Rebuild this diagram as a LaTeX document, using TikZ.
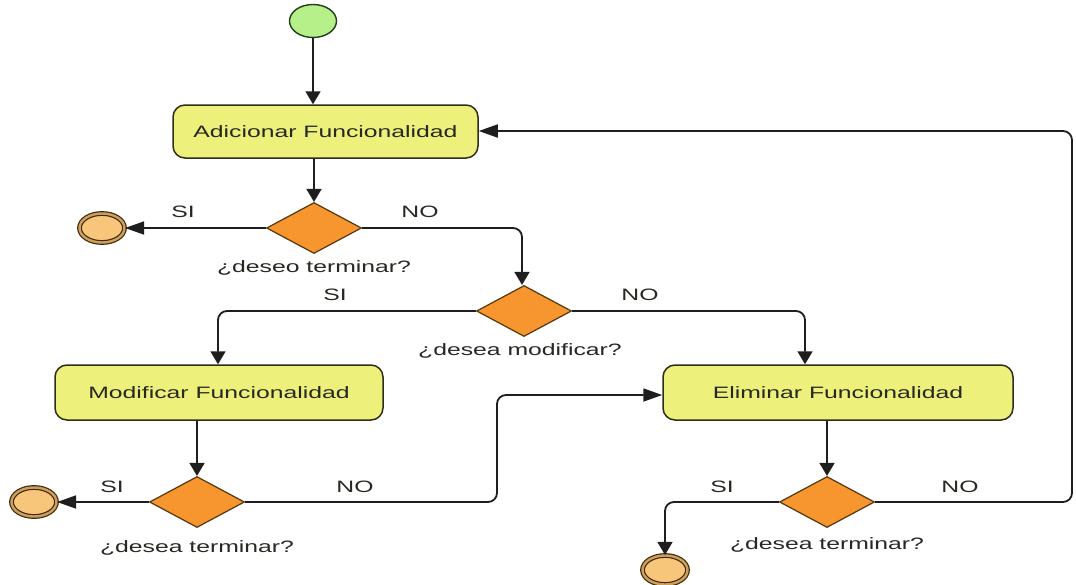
\documentclass[tikz,border=0pt]{standalone}
\usepackage{fontspec}
\setmainfont{Liberation Sans}[FakeStretch=1.5]
\usetikzlibrary{shapes.geometric,arrows.meta}

\definecolor{actfill}{RGB}{238,240,124}
\definecolor{actline}{RGB}{45,45,25}
\definecolor{decfill}{RGB}{247,150,46}
\definecolor{decline}{RGB}{85,55,15}
\definecolor{startfill}{RGB}{182,240,136}
\definecolor{startline}{RGB}{35,60,25}
\definecolor{endfill}{RGB}{248,198,122}
\definecolor{endring}{RGB}{205,160,90}
\definecolor{endline}{RGB}{65,40,12}
\definecolor{txt}{RGB}{40,40,35}
\definecolor{wire}{RGB}{30,30,30}

\begin{document}
\begin{tikzpicture}[x=1pt,y=-1pt,
  every node/.style={font=\fontsize{16.5}{19}\selectfont, text=txt},
  activity/.style={rectangle, rounded corners=12pt, draw=actline, line width=1.5pt,
    fill=actfill, inner sep=0pt},
  decision/.style={diamond, draw=decline, line width=1.2pt, fill=decfill,
    minimum width=95pt, minimum height=51pt, inner sep=0pt},
  startnode/.style={ellipse, draw=startline, line width=1.4pt, fill=startfill,
    minimum width=47pt, minimum height=33pt, inner sep=0pt},
  endnode/.style={ellipse, draw=endline, line width=1.2pt, double=endring,
    double distance=2.4pt, fill=endfill, minimum width=45pt, minimum height=29pt, inner sep=0pt},
  lbl/.style={inner sep=1pt},
  flow/.style={draw=wire, line width=1.8pt, rounded corners=9pt},
  vflow/.style={flow, -{Triangle[length=13pt,width=15pt]}},
  hflow/.style={flow, -{Triangle[length=19pt,width=13pt]}}
]
\useasboundingbox (0,0) rectangle (1076,584);
\fill[white] (0,0) rectangle (1076,584);

% states and decisions
\node[startnode] (start) at (313,21) {};
\node[activity, minimum width=305pt, minimum height=53pt] (add) at (325.5,131.5) {Adicionar Funcionalidad};
\node[decision] (d1) at (314,228) {};
\node[lbl] (q1) at (314,268) {¿deseo terminar?};
\node[endnode] (e1) at (102,228) {};

\node[decision] (d2) at (524,311) {};
\node[lbl] (q2) at (520,351) {¿desea modificar?};

\node[activity, minimum width=328pt, minimum height=55pt] (mod) at (219,392.5) {Modificar Funcionalidad};
\node[activity, minimum width=350pt, minimum height=55pt] (del) at (838,392.5) {Eliminar Funcionalidad};

\node[decision] (d3) at (197,502) {};
\node[lbl] (q3) at (197,548) {¿desea terminar?};
\node[endnode] (e2) at (34,502) {};

\node[decision] (d4) at (827,502) {};
\node[lbl] (q4) at (827,545) {¿desea terminar?};
\node[endnode] (e3) at (665,570) {};

% corner points of the routed connectors
\coordinate (c1) at (522,228);
\coordinate (c2l) at (218,311);
\coordinate (c2r) at (805,311);
\coordinate (c3a) at (497,502);
\coordinate (c3b) at (497,395);
\coordinate (c4l) at (665,502);
\coordinate (c4a) at (1072,502);
\coordinate (c4b) at (1072,131);

% connectors
\draw[vflow] (start.south) -- (start.south |- add.north);
\draw[vflow] (add.south -| d1.north) -- (d1.north);
\draw[hflow] (d1.west) -- (e1.east);
\draw[vflow] (d1.east) -- (c1) -- (c1 |- d2.north);
\draw[vflow] (d2.west) -- (c2l) -- (c2l |- mod.north);
\draw[vflow] (d2.east) -- (c2r) -- (c2r |- del.north);
\draw[vflow] (mod.south -| d3.north) -- (d3.north);
\draw[hflow] (d3.west) -- (e2.east);
\draw[hflow] (d3.east) -- (c3a) -- (c3b) -- (c3b -| del.west);
\draw[vflow] (del.south -| d4.north) -- (d4.north);
\draw[vflow] (d4.west) -- (c4l) -- (e3.north);
\draw[hflow] (d4.east) -- (c4a) -- (c4b) -- (c4b -| add.east);

% branch labels
\node[lbl] (s1) at (183,212) {SI};
\node[lbl] (n1) at (420,212) {NO};
\node[lbl] (s2) at (335,295) {SI};
\node[lbl] (n2) at (640,295) {NO};
\node[lbl] (s3) at (112,487) {SI};
\node[lbl] (n3) at (355,487) {NO};
\node[lbl] (s4) at (722,487) {SI};
\node[lbl] (n4) at (960,487) {NO};
\end{tikzpicture}
\end{document}
